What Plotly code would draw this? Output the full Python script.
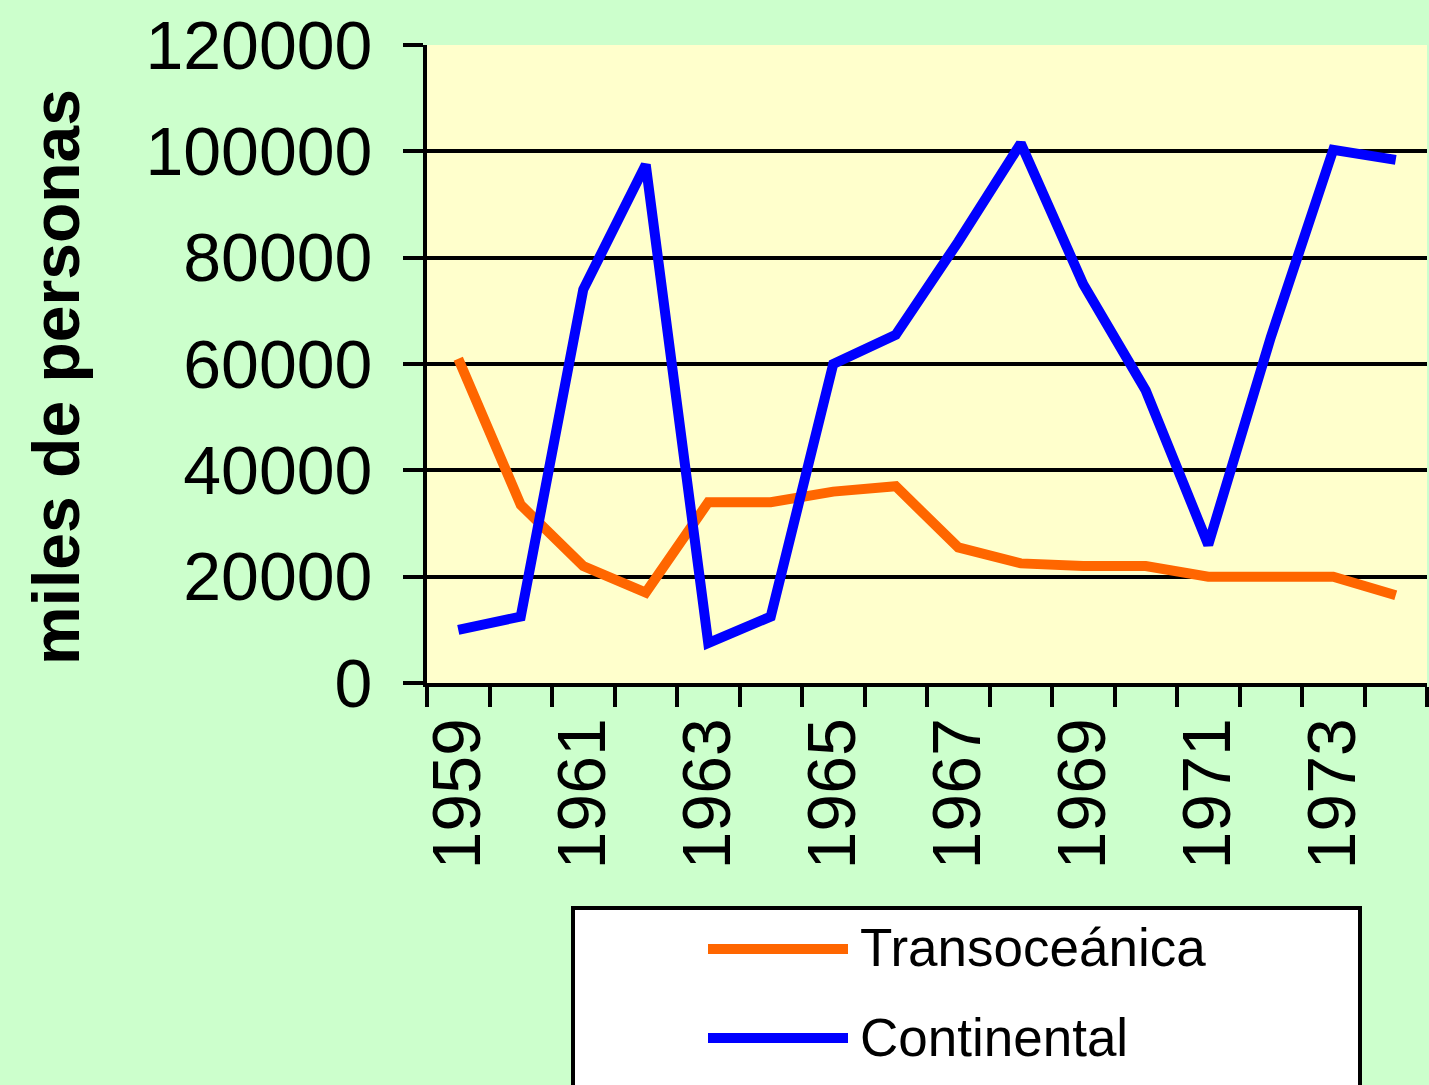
import plotly.graph_objects as go

years = list(range(1959, 1975))
transoceanica = [61000, 33500, 22000, 17000, 34000, 34000, 36000, 37000,
                 25500, 22500, 22000, 22000, 20000, 20000, 20000, 16500]
continental = [10000, 12500, 74000, 97500, 7500, 12500, 60000, 65500,
               83000, 101500, 75000, 55000, 26000, 65000, 100300, 98400]
label_years = [1959, 1961, 1963, 1965, 1967, 1969, 1971, 1973]
y_ticks = [0, 20000, 40000, 60000, 80000, 100000, 120000]

W, H = 1429, 1085
L, R, T, B = 427, 2, 45, 402
PW, PH = W - L - R, H - T - B

def px_x(x):
    return (x - L) / PW

def px_y(y):
    return (H - B - y) / PH

FONT = "Liberation Sans, Arial, sans-serif"

fig = go.Figure()
fig.add_trace(go.Scatter(x=years, y=transoceanica, mode="lines", name="Transoceánica",
                         line=dict(color="#FF6600", width=10), showlegend=False))
fig.add_trace(go.Scatter(x=years, y=continental, mode="lines", name="Continental",
                         line=dict(color="#0000FF", width=10), showlegend=False))

fig.update_layout(
    width=W, height=H,
    margin=dict(l=L, r=R, t=T, b=B),
    paper_bgcolor="#CCFFCC",
    plot_bgcolor="#FFFFCC",
    font=dict(family=FONT, color="black"),
    showlegend=False,
)

fig.update_xaxes(
    range=[1958.5, 1974.5],
    showgrid=False, zeroline=False,
    showline=True, linecolor="black", linewidth=4,
    tickmode="array", tickvals=label_years, ticktext=[str(y) for y in label_years],
    ticks="", tickangle=-90, tickfont=dict(size=68, family=FONT, color="black"),
    ticklabelstandoff=4,
    minor=dict(tickvals=[1958.5 + i for i in range(17)], ticks="outside",
               ticklen=20, tickwidth=4, tickcolor="black", showgrid=False),
)
fig.update_yaxes(
    range=[0, 120000],
    tickmode="array", tickvals=y_ticks, ticktext=[str(v) for v in y_ticks],
    showgrid=True, gridcolor="black", gridwidth=4, zeroline=False,
    showline=True, linecolor="black", linewidth=4,
    ticks="outside", ticklen=20, tickwidth=4, tickcolor="black",
    tickfont=dict(size=68, family=FONT, color="black"),
    ticklabelstandoff=17,
)

# y-axis title
fig.add_annotation(text="miles de personas", xref="paper", yref="paper",
                   x=px_x(56), y=px_y(377), xanchor="center", yanchor="middle",
                   textangle=-90, showarrow=False,
                   font=dict(size=66, family=FONT, color="black", weight="bold"))

# legend box (manual)
fig.add_shape(type="rect", xref="paper", yref="paper",
              x0=px_x(573), x1=px_x(1360), y0=px_y(908), y1=px_y(1110),
              fillcolor="white", line=dict(color="black", width=4), layer="above")
legend_items = [("Transoceánica", "#FF6600", 949), ("Continental", "#0000FF", 1038)]
for name, color, yy in legend_items:
    fig.add_shape(type="line", xref="paper", yref="paper",
                  x0=px_x(708), x1=px_x(848), y0=px_y(yy), y1=px_y(yy),
                  line=dict(color=color, width=10), layer="above")
    fig.add_annotation(text=name, xref="paper", yref="paper",
                       x=px_x(858), y=px_y(yy - 1), xanchor="left", yanchor="middle",
                       showarrow=False, font=dict(size=53, family=FONT, color="black"))

fig.write_html("out.html", config={"displayModeBar": False},
               post_script="document.body.style.margin='0px';document.body.style.overflow='hidden';")
